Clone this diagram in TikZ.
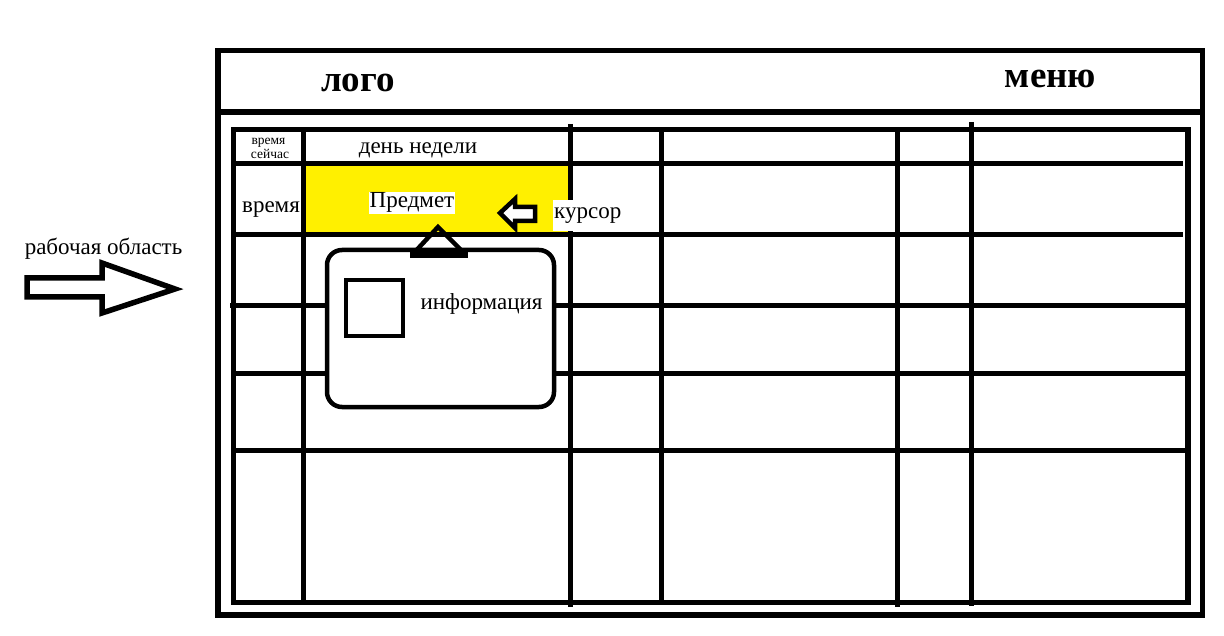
\documentclass[tikz,border=0pt]{standalone}
\usepackage{fontspec}
\setmainfont{Liberation Serif}
\definecolor{cellyellow}{RGB}{255,240,0}
\tikzset{
  frame/.style={line width=5.5pt},
  gridline/.style={line width=5pt},
  thin/.style={line width=4.5pt},
  lbl/.style={anchor=base, inner sep=0pt, font=\fontsize{23}{25}\selectfont},
  small/.style={anchor=base, inner sep=0pt, font=\fontsize{13.5}{15}\selectfont},
  big/.style={anchor=base, inner sep=0pt, font=\bfseries\fontsize{37}{40}\selectfont},
}
\begin{document}
\begin{tikzpicture}[x=1pt,y=-1pt]
\useasboundingbox[fill=white] (0,0) rectangle (1224,636);
% yellow cell
\fill[cellyellow] (304,165) rectangle (570,234);
% outer frame and header
\draw[frame] (218,50.5) rectangle (1202.5,615);
\draw[frame] (218,112) -- (1202.5,112);
\node[big] (logo) at (358,92) {лого};
\node[big] (menu) at (1050.5,88) {меню};
% inner table frame
\draw[frame] (233.5,129.5) rectangle (1188,602.5);
% vertical lines
\draw[gridline] (303,129.5) -- (303,602.5);
\draw[gridline] (570,124) -- (570,607);
\draw[gridline] (661,129.5) -- (661,602.5);
\draw[gridline] (897,129.5) -- (897,607);
\draw[gridline] (971,122) -- (971,606);
% horizontal lines
\draw[gridline] (233.5,164) -- (1183,164);
\draw[gridline] (233.5,235) -- (1183,235);
\draw[gridline] (230,306) -- (1186,306);
\draw[gridline] (233.5,374) -- (1186,374);
\draw[gridline] (233.5,450) -- (1191,450);
% texts in the table
\node[small] (now1) at (268.5,145) {время};
\node[small] (now2) at (270,159) {сейчас};
\node[lbl] (day) at (418,154) {день недели};
\node[lbl] (time) at (271,213) {время};
\node[lbl, fill=white, inner sep=1pt] (subj) at (412,208) {Предмет};
\node[anchor=west, fill=white, inner sep=1pt, minimum height=31pt,
      font=\fontsize{23}{25}\selectfont] (curs) at (553,215.5) {курсор};
% cursor arrow
\draw[thin, fill=white, line join=miter] (500,213) -- (515,199) -- (515,207) -- (535,207)
  -- (535,221) -- (515,221) -- (515,228) -- cycle;
% info popup
\draw[thin, fill=white, rounded corners=15pt] (327,250) rectangle (554,407);
\draw[thin] (412,255) -- (438,227) -- (466,255);
\draw[line width=7pt] (410,255) -- (468,255);
\draw[thin] (346,280) rectangle (403,336);
\node[lbl] (info) at (481.5,310) {информация};
% left label and arrow
\node[lbl] (work) at (103.5,255) {рабочая область};
\draw[frame, fill=white, line join=miter] (27,278) -- (102,278) -- (102,263) -- (175,289)
  -- (102,313) -- (102,297) -- (27,297) -- cycle;
\end{tikzpicture}
\end{document}
